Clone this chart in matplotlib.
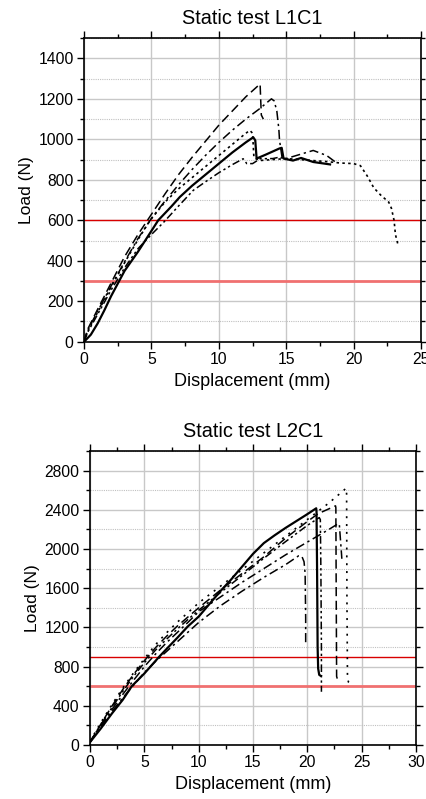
import numpy as np
import matplotlib
matplotlib.use("Agg")
import matplotlib.pyplot as plt
from matplotlib.ticker import MultipleLocator

plt.rcParams['font.family'] = ['Liberation Sans', 'DejaVu Sans']

# ---- L1C1 data (displacement mm, load N) ----
l1_solid_x = [0, 0.5, 1, 1.5, 2, 2.6, 3, 4, 5, 5.5, 6.5, 7.1, 8, 9, 10, 11, 12, 12.55, 12.7, 12.8, 13.5, 14.5, 14.66, 14.8, 15.5, 16.1, 17, 18.25]
l1_solid_y = [0, 35, 90, 155, 225, 300, 350, 445, 548, 600, 670, 715, 770, 825, 880, 935, 985, 1010, 995, 905, 925, 955, 958, 905, 895, 908, 888, 876]

l1_dash_x = [0, 0.25, 1, 2, 3, 4, 5, 6, 7, 8, 9, 10, 11, 12, 13, 13.06, 13.1, 13.15, 13.3]
l1_dash_y = [0, 60, 160, 290, 420, 530, 630, 730, 825, 910, 990, 1070, 1140, 1210, 1270, 1273, 1200, 1120, 1100]

l1_dashdot_x = [0, 0.25, 1, 2, 3, 4, 5, 6, 7, 8, 9, 10, 11, 12, 13, 13.9, 14.1, 14.3, 14.45, 14.5, 14.7, 15, 16, 17, 18, 18.7]
l1_dashdot_y = [0, 55, 150, 275, 395, 510, 610, 695, 775, 850, 920, 985, 1045, 1100, 1150, 1200, 1190, 1140, 1050, 995, 905, 905, 925, 945, 920, 885]

l1_dot_x = [0, 0.25, 1, 2, 3, 4, 4.9, 6, 7, 8, 9, 10, 11, 12, 12.3, 12.5, 12.6, 13, 14, 15, 16, 17, 18, 19, 20, 20.5, 21, 21.5, 22, 22.6, 22.8, 23, 23.1, 23.3]
l1_dot_y = [0, 50, 145, 270, 390, 505, 600, 690, 755, 810, 865, 920, 975, 1030, 1044, 1030, 910, 895, 900, 905, 900, 895, 890, 883, 880, 870, 820, 760, 725, 690, 660, 600, 530, 477]

l1_dd_x = [0, 0.25, 1, 2, 3, 4, 5, 5.9, 7, 8.1, 9, 10, 11, 11.8, 12.07, 12.5, 13.06, 14, 14.5, 15]
l1_dd_y = [0, 45, 135, 255, 365, 460, 530, 590, 670, 748, 790, 835, 875, 904, 880, 880, 904, 905, 912, 900]

# ---- L2C1 data ----
l2_solid_x = [0, 1, 2, 3, 3.84, 5, 6.36, 7, 8, 9, 10, 11, 12, 13, 14, 15, 16, 17, 18, 19, 20, 20.82, 20.85, 20.9, 20.95, 21.0, 21.1, 21.25]
l2_solid_y = [30, 170, 320, 460, 600, 730, 900, 975, 1090, 1210, 1310, 1440, 1570, 1690, 1820, 1950, 2060, 2140, 2215, 2285, 2355, 2415, 2380, 1800, 1000, 780, 715, 705]

l2_dot_x = [0, 1, 2, 3, 4, 5, 6, 7, 8, 9, 10, 12, 14, 16, 18, 20, 22, 23.58, 23.62, 23.65, 23.7, 23.8, 24.1]
l2_dot_y = [40, 230, 410, 580, 735, 880, 1020, 1140, 1250, 1350, 1450, 1620, 1790, 1960, 2130, 2300, 2470, 2620, 2560, 1500, 680, 640, 611]

l2_dash_x = [0, 1, 2, 3, 4, 5, 6, 7, 8, 9, 10, 12, 14, 16, 18, 20, 21, 22, 22.6, 22.63, 22.66, 22.7, 22.8, 22.9]
l2_dash_y = [30, 215, 395, 565, 720, 860, 990, 1105, 1210, 1305, 1400, 1580, 1750, 1920, 2110, 2280, 2360, 2410, 2440, 2420, 1600, 700, 660, 645]

l2_dd_x = [0, 1, 2, 3, 4, 5, 6, 7, 8, 9, 10, 12, 14, 16, 18, 20, 21.1, 21.2, 21.25, 21.3, 21.3]
l2_dd_y = [35, 210, 380, 545, 700, 840, 965, 1075, 1180, 1280, 1375, 1555, 1730, 1905, 2075, 2240, 2320, 2300, 1800, 1000, 543]

l2_dashdot_x = [0, 1, 2, 3, 4, 5, 6, 7, 8, 9, 10, 12, 14, 16, 18, 20, 22, 22.87, 22.95, 23.05, 23.15, 23.18]
l2_dashdot_y = [30, 200, 360, 515, 660, 800, 925, 1040, 1145, 1250, 1360, 1510, 1660, 1800, 1940, 2070, 2200, 2260, 2250, 2100, 1950, 1900]

l2_dda_x = [0, 1, 2, 3, 4, 5, 6, 7, 8, 9, 10, 12, 14, 16, 18, 19.2, 19.5, 19.7, 19.8, 19.85, 19.85]
l2_dda_y = [30, 190, 340, 480, 610, 740, 850, 950, 1050, 1150, 1250, 1420, 1570, 1710, 1840, 1930, 1925, 1870, 1750, 1300, 1010]

fig = plt.figure(figsize=(4.27, 7.99), dpi=100)
ax1 = fig.add_axes([0.197, 0.5723, 0.789, 0.380])
ax2 = fig.add_axes([0.211, 0.0676, 0.763, 0.368])

dash = (0, (6, 3))
dashdot = (0, (6, 2.5, 1.5, 2.5))
dot = (0, (1.5, 2))
dashdotdot = (0, (5, 2, 1.5, 2, 1.5, 2))
sparse_dot = (0, (1.2, 3.5))


def style_axes(ax, xmax, ymax, ymaj, title):
    ax.set_xlim(0, xmax)
    ax.set_ylim(0, ymax)
    ax.xaxis.set_major_locator(MultipleLocator(5))
    ax.xaxis.set_minor_locator(MultipleLocator(2.5))
    ax.yaxis.set_major_locator(MultipleLocator(ymaj))
    ax.yaxis.set_minor_locator(MultipleLocator(ymaj / 2))
    ax.grid(True, which='major', color='#c8c8c8', lw=1.0, ls='-')
    ax.grid(True, which='minor', axis='y', color='#c0c0c0', lw=0.8, ls=(0, (1, 1)))
    ax.set_axisbelow(True)
    for s in ax.spines.values():
        s.set_linewidth(1.2)
    ax.tick_params(which='both', direction='out', top=True, right=True, labelsize=11.3, width=1.0, pad=2.5)
    ax.tick_params(which='major', length=5)
    ax.tick_params(which='minor', length=3)
    ax.set_xlabel('Displacement (mm)', fontsize=13, labelpad=4)
    ax.set_ylabel('Load (N)', fontsize=12.5, labelpad=3)
    ax.set_title(title, fontsize=14.3, pad=10)


# top chart
style_axes(ax1, 25, 1500, 200, 'Static test L1C1')
ax1.axhline(600, color='#d80000', lw=1.0, zorder=1.5)
ax1.axhline(300, color='#f07070', lw=2.0, zorder=1.5)
ax1.plot(l1_dash_x, l1_dash_y, color='black', lw=1.1, ls=dash)
ax1.plot(l1_dashdot_x, l1_dashdot_y, color='black', lw=1.1, ls=dashdot)
ax1.plot(l1_dot_x, l1_dot_y, color='black', lw=1.2, ls=dot)
ax1.plot(l1_dd_x, l1_dd_y, color='black', lw=1.1, ls=dashdotdot)
ax1.plot(l1_solid_x, l1_solid_y, color='black', lw=1.6, ls='-')

# bottom chart
style_axes(ax2, 30, 3000, 400, 'Static test L2C1')
ax2.axhline(900, color='#d80000', lw=1.0, zorder=1.5)
ax2.axhline(600, color='#f07070', lw=2.0, zorder=1.5)
ax2.plot(l2_dot_x, l2_dot_y, color='black', lw=1.2, ls=sparse_dot)
ax2.plot(l2_dash_x, l2_dash_y, color='black', lw=1.1, ls=dash)
ax2.plot(l2_dd_x, l2_dd_y, color='black', lw=1.1, ls=dashdotdot)
ax2.plot(l2_dashdot_x, l2_dashdot_y, color='black', lw=1.1, ls=dashdot)
ax2.plot(l2_dda_x, l2_dda_y, color='black', lw=1.1, ls=dashdot)
ax2.plot(l2_solid_x, l2_solid_y, color='black', lw=1.6, ls='-')

fig.savefig('out.png', dpi=100)
